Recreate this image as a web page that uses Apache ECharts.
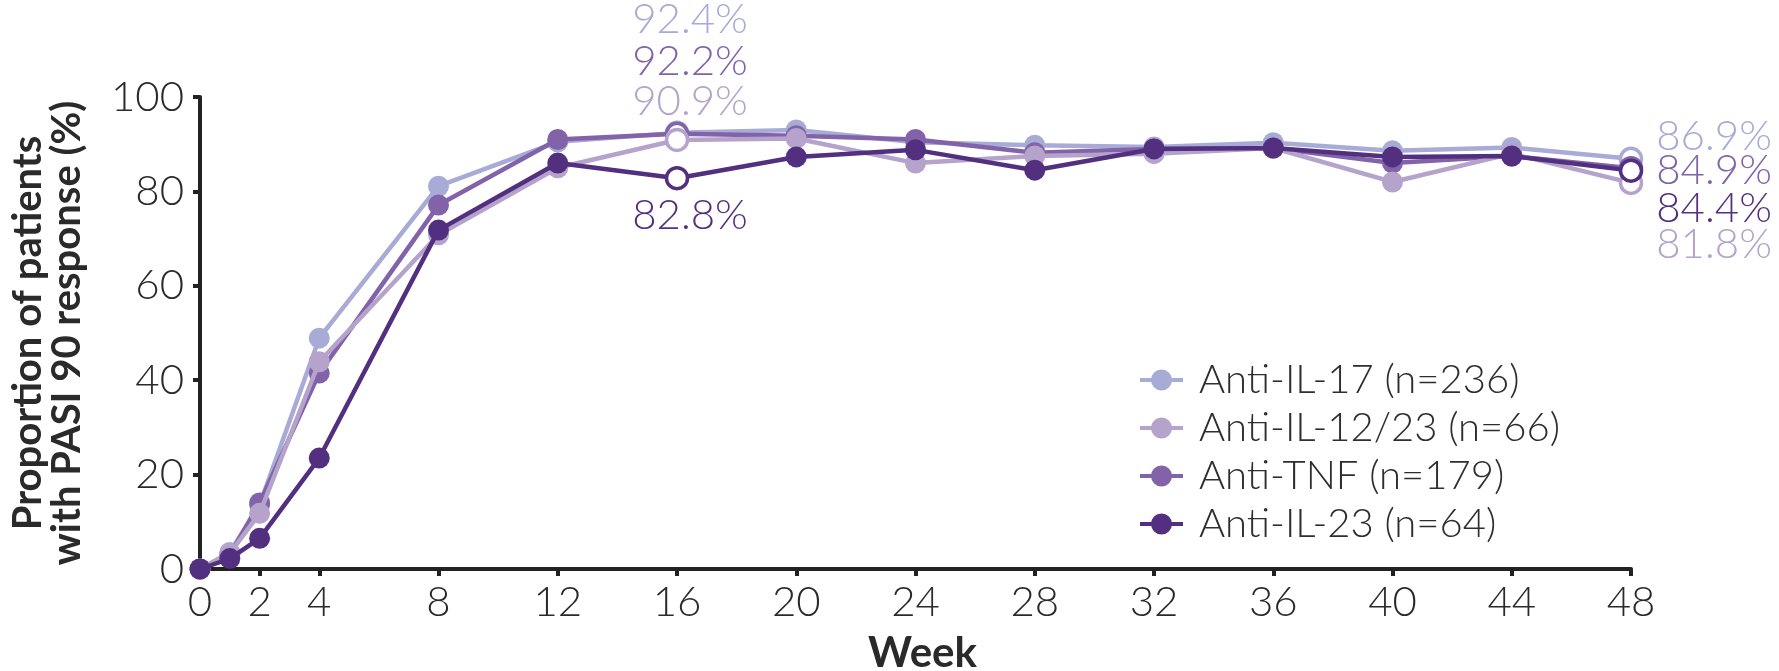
<!DOCTYPE html>
<html>
<head>
<meta charset="utf-8">
<style>
  html, body { margin: 0; padding: 0; background: #ffffff; }
  #chart { width: 1779px; height: 671px; }
</style>
<script src="https://cdn.jsdelivr.net/npm/echarts@6/dist/echarts.min.js"></script>
</head>
<body>
<div id="chart"></div>
<script>
// PASI 90 response over 48 weeks, by biologic class
const weeks = [0, 1, 2, 4, 8, 12, 16, 20, 24, 28, 32, 36, 40, 44, 48];
const antiIL17   = [0, 3.5, 13.6, 48.9, 81.1, 90.5, 92.4, 93.0, 90.4, 89.8, 89.4, 90.3, 88.6, 89.3, 86.9];
const antiIL1223 = [0, 3.3, 11.8, 43.9, 70.8, 85.0, 90.9, 91.2, 86.0, 87.5, 88.0, 89.2, 82.0, 88.0, 81.8];
const antiTNF    = [0, 3.0, 14.0, 41.5, 77.1, 91.0, 92.2, 91.8, 91.0, 88.2, 89.0, 89.2, 86.0, 87.5, 84.9];
const antiIL23   = [0, 2.2, 6.5, 23.5, 71.8, 86.0, 82.8, 87.3, 88.8, 84.5, 89.0, 89.2, 87.3, 87.5, 84.4];

const seriesNames = ['Anti-IL-17 (n=236)', 'Anti-IL-12/23 (n=66)', 'Anti-TNF (n=179)', 'Anti-IL-23 (n=64)'];
const xTicks = [0, 2, 4, 8, 12, 16, 20, 24, 28, 32, 36, 40, 44, 48];
const yTicks = [0, 20, 40, 60, 80, 100];

const colors = ['#a7abd6', '#b5a3cb', '#8262a8', '#52307f'];
const FONT = 'Lato, "Open Sans", sans-serif';

// Annotated weeks: hollow markers with value labels
const labelledWeeks = [16, 48];
// Per-series label placement at week 16 and week 48
const labelPlacement = [
  { 16: { position: 'inside', offset: [13, -113] }, 48: { position: 'right', offset: [0, -22] } },
  { 16: { position: 'inside', offset: [13, -38] },  48: { position: 'right', offset: [0, 62] } },
  { 16: { position: 'inside', offset: [13, -72] },  48: { position: 'right', offset: [0, 2] } },
  { 16: { position: 'inside', offset: [13, 37] },   48: { position: 'right', offset: [0, 38] } }
];
const zOrder = [2, 4, 3, 5];

// Legend glyph: a short bar with a dot in the middle (43 x 21 box)
const legendIcon = 'path://M0,8.5 H43 V12.5 H0 Z M11,10.5 A10.5,10.5 0 1,1 32,10.5 A10.5,10.5 0 1,1 11,10.5 Z';

function buildData(values, idx) {
  return weeks.map((w, i) => {
    const point = { value: [w, values[i]] };
    if (labelledWeeks.includes(w)) {
      const place = labelPlacement[idx][w];
      point.itemStyle = { color: '#ffffff', borderColor: colors[idx], borderWidth: 3.5 };
      point.label = {
        show: true,
        position: place.position,
        distance: 13,
        offset: place.offset,
        formatter: (p) => p.value[1].toFixed(1) + '%',
        color: colors[idx],
        fontFamily: FONT,
        fontWeight: 300,
        fontSize: 42,
        textBorderWidth: 0
      };
    }
    return point;
  });
}

const allValues = [antiIL17, antiIL1223, antiTNF, antiIL23];

const series = allValues.map((vals, idx) => ({
  name: seriesNames[idx],
  type: 'line',
  z: zOrder[idx],
  data: buildData(vals, idx),
  symbol: 'circle',
  symbolSize: 21,
  showAllSymbol: true,
  lineStyle: { color: colors[idx], width: 4.5 },
  itemStyle: { color: colors[idx], borderWidth: 0 },
  emphasis: { disabled: true },
  label: { show: false }
}));

const chart = echarts.init(document.getElementById('chart'), null, { renderer: 'canvas' });
chart.setOption({
  animation: false,
  backgroundColor: '#ffffff',
  color: colors,
  grid: { left: 200, right: 148, top: 97, bottom: 102, containLabel: false, outerBoundsMode: 'none' },
  legend: {
    orient: 'vertical',
    left: 1135,
    top: 355,
    itemWidth: 43,
    itemHeight: 21,
    itemGap: 8,
    icon: legendIcon,
    data: seriesNames,
    textStyle: { fontFamily: FONT, fontSize: 40, color: '#2e2e2e', fontWeight: 300, padding: [0, 0, 0, 11] },
    selectedMode: false
  },
  xAxis: {
    type: 'value',
    min: 0,
    max: 48,
    name: 'Week',
    nameLocation: 'middle',
    nameGap: 63,
    nameMoveOverlap: false,
    nameTextStyle: { fontFamily: FONT, fontSize: 42, fontWeight: 'bold', color: '#2a2a2a', padding: [0, 0, 0, 14] },
    axisLine: { show: true, onZero: false, lineStyle: { color: '#222222', width: 4 } },
    axisTick: { show: true, length: 7, lineStyle: { color: '#222222', width: 4 }, customValues: xTicks },
    axisLabel: { customValues: xTicks, fontFamily: FONT, fontSize: 42, fontWeight: 300, color: '#2a2a2a', margin: 12 },
    splitLine: { show: false }
  },
  yAxis: {
    type: 'value',
    min: 0,
    max: 100,
    interval: 20,
    name: 'Proportion of patients\nwith PASI 90 response (%)',
    nameLocation: 'middle',
    nameRotate: 90,
    nameGap: 113,
    nameMoveOverlap: false,
    nameTextStyle: { fontFamily: FONT, fontSize: 40, fontWeight: 'bold', color: '#2a2a2a', lineHeight: 39 },
    axisLine: { show: true, onZero: false, lineStyle: { color: '#222222', width: 4 } },
    axisTick: { show: true, length: 7, lineStyle: { color: '#222222', width: 4 }, customValues: yTicks },
    axisLabel: { customValues: yTicks, fontFamily: FONT, fontSize: 42, fontWeight: 300, color: '#2a2a2a', margin: 16 },
    splitLine: { show: false }
  },
  series: series
});
</script>
</body>
</html>
